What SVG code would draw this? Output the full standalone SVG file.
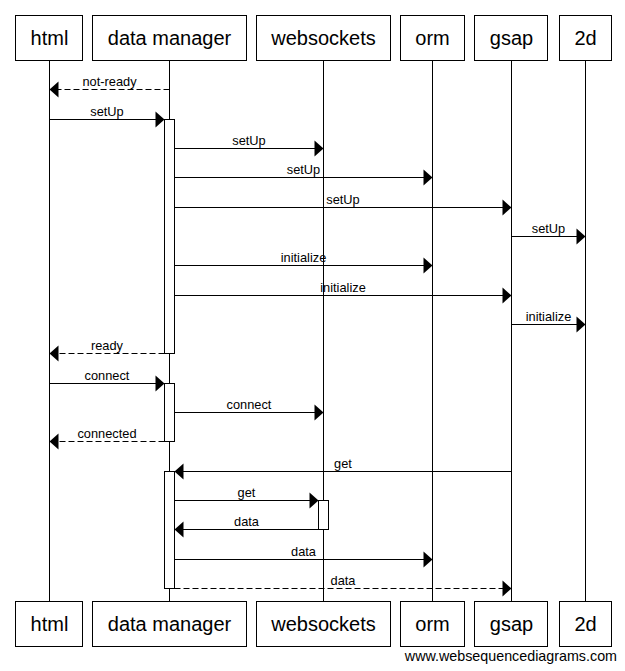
<svg xmlns="http://www.w3.org/2000/svg" width="625" height="671" viewBox="0 0 625 671">
<style>
.box{fill:#fff;stroke:#000;stroke-width:1}
.act{fill:#fff;stroke:#000;stroke-width:1}
.life{stroke:#000;stroke-width:1}
.hdr{font-family:"Liberation Sans",Arial,sans-serif;font-size:20px;fill:#000;text-anchor:middle}
.msg{stroke:#000;stroke-width:1;fill:none;marker-end:url(#ah)}
.dash{stroke-dasharray:6,3}
.lbl{font-family:"Liberation Sans",Arial,sans-serif;font-size:12.8px;fill:#000;text-anchor:middle}
.wm{font-family:"Liberation Sans",Arial,sans-serif;font-size:14.3px;fill:#000;text-anchor:end}
</style>
<defs>
<marker id="ah" markerUnits="userSpaceOnUse" markerWidth="10" markerHeight="17" refX="9" refY="8" orient="auto" overflow="visible">
<path d="M0,0 L9,8 L0,16 Z" fill="#000" stroke="none"/>
</marker>
</defs>
<rect width="625" height="671" fill="#fff"/>
<g id="lifelines">
<line class="life" x1="49.5" y1="60" x2="49.5" y2="601"/>
<line class="life" x1="169.5" y1="60" x2="169.5" y2="601"/>
<line class="life" x1="323.5" y1="60" x2="323.5" y2="601"/>
<line class="life" x1="432.5" y1="60" x2="432.5" y2="601"/>
<line class="life" x1="511.5" y1="60" x2="511.5" y2="601"/>
<line class="life" x1="585.5" y1="60" x2="585.5" y2="601"/>
</g>
<g id="html">
<rect class="box" x="15.5" y="15.5" width="67" height="45"/>
<text class="hdr" x="49.5" y="45">html</text>
<rect class="box" x="15.5" y="601.5" width="67" height="45"/>
<text class="hdr" x="49.5" y="631">html</text>
</g>
<g id="data-manager">
<rect class="box" x="92.5" y="15.5" width="154" height="45"/>
<text class="hdr" x="169.5" y="45">data manager</text>
<rect class="box" x="92.5" y="601.5" width="154" height="45"/>
<text class="hdr" x="169.5" y="631">data manager</text>
</g>
<g id="websockets">
<rect class="box" x="256.5" y="15.5" width="134" height="45"/>
<text class="hdr" x="323.5" y="45">websockets</text>
<rect class="box" x="256.5" y="601.5" width="134" height="45"/>
<text class="hdr" x="323.5" y="631">websockets</text>
</g>
<g id="orm">
<rect class="box" x="400.5" y="15.5" width="64" height="45"/>
<text class="hdr" x="432.5" y="45">orm</text>
<rect class="box" x="400.5" y="601.5" width="64" height="45"/>
<text class="hdr" x="432.5" y="631">orm</text>
</g>
<g id="gsap">
<rect class="box" x="474.5" y="15.5" width="73" height="45"/>
<text class="hdr" x="511.5" y="45">gsap</text>
<rect class="box" x="474.5" y="601.5" width="73" height="45"/>
<text class="hdr" x="511.5" y="631">gsap</text>
</g>
<g id="2d">
<rect class="box" x="559.5" y="15.5" width="52" height="45"/>
<text class="hdr" x="585.5" y="45">2d</text>
<rect class="box" x="559.5" y="601.5" width="52" height="45"/>
<text class="hdr" x="585.5" y="631">2d</text>
</g>
<g id="activations">
<rect class="act" x="164.5" y="119.5" width="10" height="234"/>
<rect class="act" x="164.5" y="383.5" width="10" height="58"/>
<rect class="act" x="164.5" y="471.5" width="10" height="117"/>
<rect class="act" x="318.5" y="500.5" width="10" height="29"/>
</g>
<g id="connectors">
<line class="msg dash" x1="169.5" y1="89.5" x2="49.5" y2="89.5"/>
<text class="lbl" x="109.5" y="86">not-ready</text>
<line class="msg" x1="49.5" y1="119.5" x2="164.5" y2="119.5"/>
<text class="lbl" x="107" y="116">setUp</text>
<line class="msg" x1="174.5" y1="148.5" x2="323.5" y2="148.5"/>
<text class="lbl" x="249" y="145">setUp</text>
<line class="msg" x1="174.5" y1="177.5" x2="432.5" y2="177.5"/>
<text class="lbl" x="303.5" y="174">setUp</text>
<line class="msg" x1="174.5" y1="207.5" x2="511.5" y2="207.5"/>
<text class="lbl" x="343" y="204">setUp</text>
<line class="msg" x1="511.5" y1="236.5" x2="585.5" y2="236.5"/>
<text class="lbl" x="548.5" y="233">setUp</text>
<line class="msg" x1="174.5" y1="265.5" x2="432.5" y2="265.5"/>
<text class="lbl" x="303.5" y="262">initialize</text>
<line class="msg" x1="174.5" y1="295.5" x2="511.5" y2="295.5"/>
<text class="lbl" x="343" y="292">initialize</text>
<line class="msg" x1="511.5" y1="324.5" x2="585.5" y2="324.5"/>
<text class="lbl" x="548.5" y="321">initialize</text>
<line class="msg dash" x1="164.5" y1="353.5" x2="49.5" y2="353.5"/>
<text class="lbl" x="107" y="350">ready</text>
<line class="msg" x1="49.5" y1="383.5" x2="164.5" y2="383.5"/>
<text class="lbl" x="107" y="380">connect</text>
<line class="msg" x1="174.5" y1="412.5" x2="323.5" y2="412.5"/>
<text class="lbl" x="249" y="409">connect</text>
<line class="msg dash" x1="164.5" y1="441.5" x2="49.5" y2="441.5"/>
<text class="lbl" x="107" y="438">connected</text>
<line class="msg" x1="511.5" y1="471.5" x2="174.5" y2="471.5"/>
<text class="lbl" x="343" y="468">get</text>
<line class="msg" x1="174.5" y1="500.5" x2="318.5" y2="500.5"/>
<text class="lbl" x="246.5" y="497">get</text>
<line class="msg" x1="318.5" y1="529.5" x2="174.5" y2="529.5"/>
<text class="lbl" x="246.5" y="526">data</text>
<line class="msg" x1="174.5" y1="559.5" x2="432.5" y2="559.5"/>
<text class="lbl" x="303.5" y="556">data</text>
<line class="msg dash" x1="174.5" y1="588.5" x2="511.5" y2="588.5"/>
<text class="lbl" x="343" y="585">data</text>
</g>
<text class="wm" x="617" y="661">www.websequencediagrams.com</text>
</svg>
